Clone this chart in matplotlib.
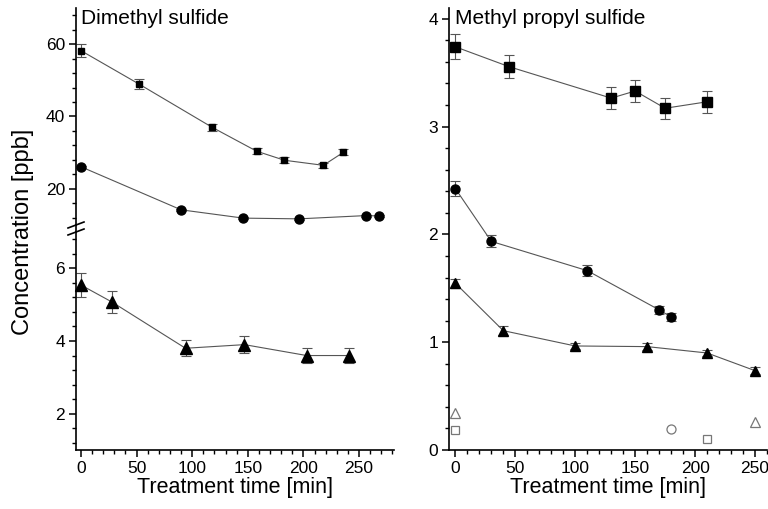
import numpy as np
import matplotlib
matplotlib.use("Agg")
import matplotlib.pyplot as plt
from matplotlib.ticker import MultipleLocator

plt.rcParams['font.family'] = ['Liberation Sans', 'DejaVu Sans']

# Dimethyl sulfide
dms_sq_t = [0, 52, 118, 158, 183, 218, 236]
dms_sq_c = [58.2, 49.0, 37.0, 30.4, 27.9, 26.5, 30.1]
dms_sq_e = [1.75, 1.5, 1.0, 0.8, 0.8, 0.7, 0.8]

dms_ci_t = [0, 90, 146, 196, 256, 268]
dms_ci_c = [26.1, 14.2, 11.9, 11.7, 12.6, 12.5]
dms_ci_e = [0.3, 0.3, 0.3, 0.3, 0.3, 0.3]

dms_tr_t = [0, 28, 94, 147, 203, 241]
dms_tr_c = [5.54, 5.07, 3.80, 3.90, 3.60, 3.60]
dms_tr_e = [0.33, 0.30, 0.22, 0.23, 0.21, 0.21]

# Methyl propyl sulfide
mps_sq_t = [0, 45, 130, 150, 175, 210]
mps_sq_c = [3.74, 3.555, 3.264, 3.33, 3.17, 3.23]
mps_sq_e = [0.115, 0.108, 0.10, 0.10, 0.096, 0.10]

mps_ci_t = [0, 30, 110, 170, 180]
mps_ci_c = [2.425, 1.935, 1.664, 1.30, 1.234]
mps_ci_e = [0.073, 0.055, 0.05, 0.04, 0.04]

mps_tr_t = [0, 40, 100, 160, 210, 250]
mps_tr_c = [1.547, 1.107, 0.965, 0.959, 0.90, 0.736]
mps_tr_e = [0.04, 0.04, 0.03, 0.03, 0.03, 0.03]

# open symbols (controls)
open_tr_t = [0, 250]
open_tr_c = [0.346, 0.26]
open_sq_t = [0, 210]
open_sq_c = [0.183, 0.105]
open_ci_t = [180]
open_ci_c = [0.195]

W, H = 768, 509
fig = plt.figure(figsize=(W / 100, H / 100), dpi=100)


def box(x0, y0, x1, y1):
    return [x0 / W, 1 - y1 / H, (x1 - x0) / W, (y1 - y0) / H]


ax_top = fig.add_axes(box(76, 8, 394, 225))
ax_bot = fig.add_axes(box(76, 232, 394, 450))
ax_r = fig.add_axes(box(449, 8, 767, 450))

line_kw = dict(color='#555555', lw=0.8)
err_kw = dict(ecolor='#555555', elinewidth=0.8, capsize=3.5, capthick=0.8)


def series(ax, t, c, e, marker, ms):
    ax.errorbar(t, c, yerr=e, fmt='none', zorder=2, **err_kw)
    ax.plot(t, c, zorder=3, **line_kw)
    ax.plot(t, c, ls='none', marker=marker, ms=ms, color='black', zorder=4,
            clip_on=False)


series(ax_top, dms_sq_t, dms_sq_c, dms_sq_e, 's', 4.5)
series(ax_top, dms_ci_t, dms_ci_c, dms_ci_e, 'o', 6.5)
series(ax_bot, dms_tr_t, dms_tr_c, dms_tr_e, '^', 8)

series(ax_r, mps_sq_t, mps_sq_c, mps_sq_e, 's', 6.5)
series(ax_r, mps_ci_t, mps_ci_c, mps_ci_e, 'o', 6.5)
series(ax_r, mps_tr_t, mps_tr_c, mps_tr_e, '^', 7.5)

open_kw = dict(ls='none', mfc='none', mec='#777777', mew=0.9, zorder=4)
ax_r.plot(open_tr_t, open_tr_c, marker='^', ms=7, **open_kw)
ax_r.plot(open_sq_t, open_sq_c, marker='s', ms=6, **open_kw)
ax_r.plot(open_ci_t, open_ci_c, marker='o', ms=6.5, **open_kw)

for ax in (ax_top, ax_bot, ax_r):
    ax.spines['top'].set_visible(False)
    ax.spines['right'].set_visible(False)
    for s in ('left', 'bottom'):
        ax.spines[s].set_linewidth(1.2)
    ax.tick_params(which='major', direction='out', length=5, width=1.1,
                   labelsize=12.5, pad=3)
    ax.tick_params(which='minor', direction='out', length=3, width=1.0)
    ax.xaxis.set_minor_locator(MultipleLocator(10))

ax_top.set_xlim(-4.5, 281.5)
ax_bot.set_xlim(-4.5, 281.5)
ax_top.set_ylim(10, 70)
ax_top.yaxis.set_major_locator(MultipleLocator(20))
ax_top.yaxis.set_minor_locator(MultipleLocator(4))
ax_top.spines['bottom'].set_visible(False)
ax_top.tick_params(axis='x', which='both', bottom=False, labelbottom=False)

ax_bot.set_ylim(1, 7)
ax_bot.set_yticks([2, 4, 6])
ax_bot.yaxis.set_minor_locator(MultipleLocator(0.4))
ax_bot.set_xticks([0, 50, 100, 150, 200, 250])

ax_r.set_xlim(-5.3, 260)
ax_r.set_ylim(0, 4.1)
ax_r.set_yticks([0, 1, 2, 3, 4])
ax_r.yaxis.set_minor_locator(MultipleLocator(0.2))
ax_r.set_xticks([0, 50, 100, 150, 200, 250])

# axis break marks
x0 = 76 / W
for yb in (225, 232):
    yy = 1 - yb / H
    fig.add_artist(plt.Line2D([x0 - 8 / W, x0 + 8 / W],
                              [yy - 3 / H, yy + 3 / H],
                              color='black', lw=1.2))
fig.add_artist(plt.Line2D([x0, x0], [1 - 232 / H, 1 - 225 / H],
                          color='black', lw=1.2))

fig.text(81 / W, 1 - 9 / H, 'Dimethyl sulfide', ha='left', va='top',
         fontsize=15)
fig.text(455 / W, 1 - 9 / H, 'Methyl propyl sulfide', ha='left', va='top',
         fontsize=15)

ax_bot.set_xlabel('Treatment time [min]', fontsize=15.5, labelpad=1)
ax_r.set_xlabel('Treatment time [min]', fontsize=15.5, labelpad=1)
fig.text(23 / W, 1 - 232 / H, 'Concentration [ppb]', rotation=90,
         ha='center', va='center', fontsize=17)

fig.savefig('out.png', dpi=100)
